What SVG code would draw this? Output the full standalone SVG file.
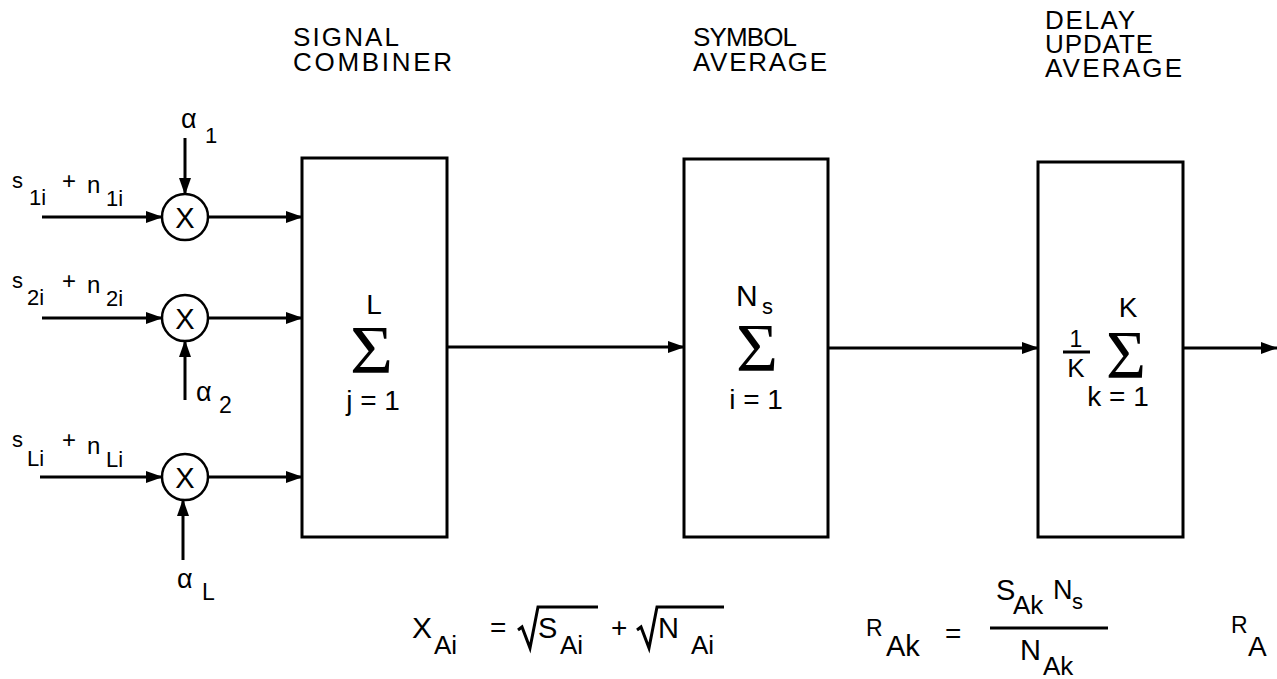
<svg xmlns="http://www.w3.org/2000/svg" width="1277" height="679" viewBox="0 0 1277 679">
<defs>
<style>
.t{font-family:"Liberation Sans",Arial,sans-serif;fill:#000}
.h{font-size:26px}
.m{font-size:24px}
.s{font-size:22px}
.lim{font-size:28px}
.sig{font-family:"Liberation Serif","Times New Roman",serif;font-size:68px;fill:#000}
.box{fill:#fff;stroke:#000;stroke-width:3}
.ln{fill:none;stroke:#000;stroke-width:3}
.c{fill:#fff;stroke:#000;stroke-width:2.5}
</style>
<marker id="ah" markerUnits="userSpaceOnUse" markerWidth="17" markerHeight="12" refX="16" refY="6" orient="auto">
<path d="M0,0 L17,6 L0,12 z" fill="#000"/>
</marker>
</defs>
<rect width="1277" height="679" fill="#fff"/>

<g id="headers">
<text class="t h" x="293" y="46" textLength="106" lengthAdjust="spacing">SIGNAL</text>
<text class="t h" x="293" y="71" textLength="159" lengthAdjust="spacing">COMBINER</text>
<text class="t h" x="693" y="46" textLength="104" lengthAdjust="spacing">SYMBOL</text>
<text class="t h" x="693" y="71" textLength="134" lengthAdjust="spacing">AVERAGE</text>
<text class="t h" x="1045" y="29" textLength="90" lengthAdjust="spacing">DELAY</text>
<text class="t h" x="1045" y="53" textLength="108" lengthAdjust="spacing">UPDATE</text>
<text class="t h" x="1045" y="77" textLength="137" lengthAdjust="spacing">AVERAGE</text>
</g>

<g id="connectors">
<path class="ln" d="M42,217 H162" marker-end="url(#ah)"/>
<path class="ln" d="M208,217 H302" marker-end="url(#ah)"/>
<path class="ln" d="M42,318 H162" marker-end="url(#ah)"/>
<path class="ln" d="M208,318 H302" marker-end="url(#ah)"/>
<path class="ln" d="M40,477 H162" marker-end="url(#ah)"/>
<path class="ln" d="M208,477 H302" marker-end="url(#ah)"/>
<path class="ln" d="M185,138 V194" marker-end="url(#ah)"/>
<path class="ln" d="M185,400 V341" marker-end="url(#ah)"/>
<path class="ln" d="M183,560 V500" marker-end="url(#ah)"/>
<path class="ln" d="M447,347 H684" marker-end="url(#ah)"/>
<path class="ln" d="M828,348 H1038" marker-end="url(#ah)"/>
<path class="ln" d="M1183,348 H1277" marker-end="url(#ah)"/>
</g>

<g id="input1">
<text class="t s" x="12" y="188">s</text>
<text class="t s" x="29" y="205">1i</text>
<text class="t m" x="62" y="189">+</text>
<text class="t m" x="87" y="193">n</text>
<text class="t s" x="106" y="206">1i</text>
</g>
<g id="input2">
<text class="t s" x="12" y="288">s</text>
<text class="t s" x="27" y="305">2i</text>
<text class="t m" x="62" y="289">+</text>
<text class="t m" x="87" y="293">n</text>
<text class="t s" x="106" y="306">2i</text>
</g>
<g id="input3">
<text class="t s" x="12" y="447">s</text>
<text class="t s" x="27" y="466">Li</text>
<text class="t m" x="62" y="448">+</text>
<text class="t m" x="87" y="454">n</text>
<text class="t s" x="106" y="467">Li</text>
</g>

<g id="mult1">
<circle class="c" cx="185" cy="217" r="23"/>
<text class="t" x="185" y="228" font-size="29" text-anchor="middle">X</text>
<text class="t" x="181" y="128" font-size="27">α</text>
<text class="t" x="205" y="143" font-size="22">1</text>
</g>
<g id="mult2">
<circle class="c" cx="185" cy="318" r="23"/>
<text class="t" x="185" y="329" font-size="29" text-anchor="middle">X</text>
<text class="t" x="196" y="401" font-size="27">α</text>
<text class="t" x="219" y="413" font-size="23">2</text>
</g>
<g id="mult3">
<circle class="c" cx="185" cy="477" r="23"/>
<text class="t" x="185" y="488" font-size="29" text-anchor="middle">X</text>
<text class="t" x="177" y="588" font-size="27">α</text>
<text class="t" x="202" y="600" font-size="23">L</text>
</g>

<g id="combiner">
<rect class="box" x="302" y="158" width="145" height="379"/>
<text class="t lim" x="374" y="314" text-anchor="middle">L</text>
<text class="sig" x="350" y="372" textLength="43" lengthAdjust="spacingAndGlyphs">Σ</text>
<text class="t lim" x="373" y="410" text-anchor="middle">j = 1</text>
</g>

<g id="symbol-average">
<rect class="box" x="684" y="159" width="144" height="378"/>
<text class="t" x="736" y="306" font-size="30">N</text>
<text class="t" x="762" y="314" font-size="22">s</text>
<text class="sig" x="736" y="370" textLength="42" lengthAdjust="spacingAndGlyphs">Σ</text>
<text class="t lim" x="756" y="409" text-anchor="middle">i = 1</text>
</g>

<g id="delay-average">
<rect class="box" x="1038" y="162" width="145" height="375"/>
<text class="t" x="1076" y="347" font-size="23" text-anchor="middle">1</text>
<path class="ln" d="M1063,352 H1090" stroke-width="2.5"/>
<text class="t" x="1076" y="377" font-size="26" text-anchor="middle">K</text>
<text class="t lim" x="1128" y="317" text-anchor="middle">K</text>
<text class="sig" x="1106" y="377" textLength="40" lengthAdjust="spacingAndGlyphs">Σ</text>
<text class="t lim" x="1118" y="406" text-anchor="middle">k = 1</text>
</g>

<g id="formula-x">
<text class="t" x="412" y="638" font-size="30">X</text>
<text class="t" x="434" y="654" font-size="26">Ai</text>
<text class="t" x="490" y="637" font-size="28">=</text>
<path class="ln" stroke-width="2.5" d="M518,630 L522,627 L530,648 L538,607 H598"/>
<text class="t" x="538" y="638" font-size="29">S</text>
<text class="t" x="560" y="654" font-size="26">Ai</text>
<text class="t" x="611" y="637" font-size="28">+</text>
<path class="ln" stroke-width="2.5" d="M637,630 L641,627 L649,648 L657,607 H724"/>
<text class="t" x="658" y="638" font-size="29">N</text>
<text class="t" x="691" y="654" font-size="26">Ai</text>
</g>

<g id="formula-r">
<text class="t" x="866" y="636" font-size="23">R</text>
<text class="t" x="886" y="656" font-size="29">Ak</text>
<text class="t" x="945" y="643" font-size="28">=</text>
<path class="ln" stroke-width="2.5" d="M990,628 H1108"/>
<text class="t" x="996" y="600" font-size="29">S</text>
<text class="t" x="1013" y="614" font-size="26">Ak</text>
<text class="t" x="1053" y="599" font-size="27">N</text>
<text class="t" x="1072" y="609" font-size="22">s</text>
<text class="t" x="1020" y="660" font-size="29">N</text>
<text class="t" x="1043" y="675" font-size="26">Ak</text>
<text class="t" x="1231" y="633" font-size="23">R</text>
<text class="t" x="1248" y="656" font-size="28">A</text>
</g>
</svg>
